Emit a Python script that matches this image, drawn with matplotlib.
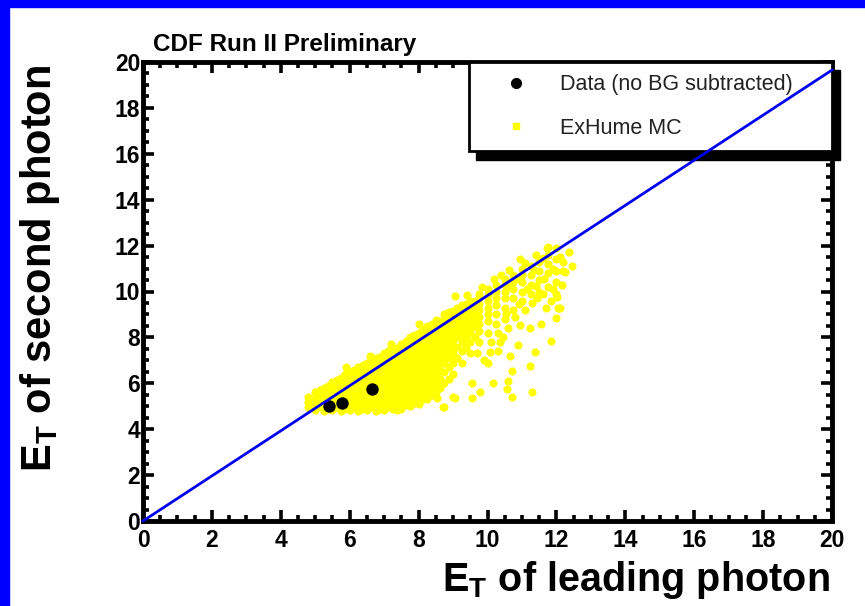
import matplotlib
matplotlib.use("Agg")
import matplotlib.pyplot as plt
from matplotlib.lines import Line2D
from matplotlib.patches import Rectangle
from matplotlib.ticker import MultipleLocator

plt.rcParams['font.family'] = ['Liberation Sans', 'DejaVu Sans']
plt.rcParams['mathtext.fontset'] = 'custom'
plt.rcParams['mathtext.rm'] = 'Liberation Sans'
plt.rcParams['mathtext.bf'] = 'Liberation Sans:bold'

# Data (no BG subtracted)
data_x = [5.40, 5.78, 6.65]
data_y = [5.00, 5.12, 5.75]

# ExHume MC (dense core)
mc_core = [
    (4.8, 4.95), (4.8, 5.2), (4.8, 5.4),
    (5.0, 4.85), (5.0, 5.1), (5.0, 5.35), (5.0, 5.6),
    (5.25, 4.8), (5.25, 5.05), (5.25, 5.3), (5.25, 5.55), (5.25, 5.8),
    (5.5, 4.85), (5.5, 5.1), (5.5, 5.35), (5.5, 5.6), (5.5, 5.85), (5.5, 6.05),
    (5.75, 4.8), (5.75, 5.05), (5.75, 5.3), (5.75, 5.55), (5.75, 5.8), (5.75, 6.05), (5.75, 6.25),
    (6.0, 4.85), (6.0, 5.1), (6.0, 5.35), (6.0, 5.6), (6.0, 5.85), (6.0, 6.1), (6.0, 6.35), (6.0, 6.5),
    (6.25, 4.8), (6.25, 5.05), (6.25, 5.3), (6.25, 5.55), (6.25, 5.8), (6.25, 6.05), (6.25, 6.3),
    (6.25, 6.55), (6.25, 6.7),
    (6.5, 4.85), (6.5, 5.1), (6.5, 5.35), (6.5, 5.6), (6.5, 5.85), (6.5, 6.1), (6.5, 6.35),
    (6.5, 6.6), (6.5, 6.9),
    (6.75, 4.8), (6.75, 5.05), (6.75, 5.3), (6.75, 5.55), (6.75, 5.8), (6.75, 6.05), (6.75, 6.3),
    (6.75, 6.55), (6.75, 6.8), (6.75, 7.1),
    (7.0, 4.85), (7.0, 5.1), (7.0, 5.35), (7.0, 5.6), (7.0, 5.85), (7.0, 6.1), (7.0, 6.35),
    (7.0, 6.6), (7.0, 6.85), (7.0, 7.1), (7.0, 7.3),
    (7.25, 4.9), (7.25, 5.15), (7.25, 5.4), (7.25, 5.65), (7.25, 5.9), (7.25, 6.15), (7.25, 6.4),
    (7.25, 6.65), (7.25, 6.9), (7.25, 7.15), (7.25, 7.5),
    (7.5, 4.9), (7.5, 5.2), (7.5, 5.45), (7.5, 5.7), (7.5, 5.95), (7.5, 6.2), (7.5, 6.45),
    (7.5, 6.7), (7.5, 6.95), (7.5, 7.2), (7.5, 7.45), (7.5, 7.7),
    (7.75, 5.0), (7.75, 5.3), (7.75, 5.55), (7.75, 5.8), (7.75, 6.05), (7.75, 6.3), (7.75, 6.55),
    (7.75, 6.8), (7.75, 7.05), (7.75, 7.3), (7.75, 7.55), (7.75, 7.8), (7.75, 8.0),
    (8.0, 5.1), (8.0, 5.4), (8.0, 5.7), (8.0, 5.95), (8.0, 6.2), (8.0, 6.45), (8.0, 6.7),
    (8.0, 6.95), (8.0, 7.2), (8.0, 7.45), (8.0, 7.7), (8.0, 7.95), (8.0, 8.2),
    (8.25, 5.3), (8.25, 5.6), (8.25, 5.9), (8.25, 6.2), (8.25, 6.5), (8.25, 6.75), (8.25, 7.0),
    (8.25, 7.25), (8.25, 7.5), (8.25, 7.75), (8.25, 8.0), (8.25, 8.25), (8.25, 8.5),
    (8.5, 5.6), (8.5, 6.0), (8.5, 6.35), (8.5, 6.7), (8.5, 7.0), (8.5, 7.3), (8.5, 7.55),
    (8.5, 7.8), (8.5, 8.05), (8.5, 8.3), (8.5, 8.55), (8.5, 8.75),
    (8.75, 6.0), (8.75, 6.5), (8.75, 6.9), (8.75, 7.2), (8.75, 7.5), (8.75, 7.75), (8.75, 8.0),
    (8.75, 8.25), (8.75, 8.5), (8.75, 8.75), (8.75, 9.0),
    (9.0, 6.4), (9.0, 6.9), (9.0, 7.3), (9.0, 7.6), (9.0, 7.9), (9.0, 8.15), (9.0, 8.4),
    (9.0, 8.65), (9.0, 8.9), (9.0, 9.15),
    (9.25, 6.9), (9.25, 7.4), (9.25, 7.8), (9.25, 8.1), (9.25, 8.4), (9.25, 8.65), (9.25, 8.9),
    (9.25, 9.15), (9.25, 9.4),
    (9.5, 7.3), (9.5, 7.8), (9.5, 8.2), (9.5, 8.5), (9.5, 8.8), (9.5, 9.05), (9.5, 9.3), (9.5, 9.6),
    (9.75, 7.8), (9.75, 8.3), (9.75, 8.6), (9.75, 8.9), (9.75, 9.2), (9.75, 9.45), (9.75, 9.7),
    (9.75, 9.9),
    (10.0, 8.2), (10.0, 8.7), (10.0, 9.0), (10.0, 9.3), (10.0, 9.6), (10.0, 9.85), (10.0, 10.1),
    (10.25, 8.6), (10.25, 9.0), (10.25, 9.4), (10.25, 9.7), (10.25, 10.0), (10.25, 10.3),
    (10.5, 8.8), (10.5, 9.3), (10.5, 9.7), (10.5, 10.0), (10.5, 10.3), (10.5, 10.55),
    (10.75, 9.2), (10.75, 9.7), (10.75, 10.1), (10.75, 10.4), (10.75, 10.7),
    (11.0, 9.6), (11.0, 10.0), (11.0, 10.4), (11.0, 10.7), (11.0, 11.0),
    (11.25, 9.9), (11.25, 10.3), (11.25, 10.7), (11.25, 11.1),
    (11.5, 10.0), (11.5, 10.5), (11.5, 10.9), (11.5, 11.3),
    (11.75, 10.2), (11.75, 10.8), (11.75, 11.2), (11.75, 11.6),
    (12.0, 9.9), (12.0, 10.4), (12.0, 10.9), (12.0, 11.4), (12.0, 11.9),
]

# ExHume MC, in-between columns of the dense core
mc_fill = [
    (5.125, 4.95), (5.125, 5.2), (5.125, 5.45), (5.125, 5.7),
    (5.375, 4.9), (5.375, 5.15), (5.375, 5.4), (5.375, 5.65), (5.375, 5.9),
    (5.625, 4.95), (5.625, 5.2), (5.625, 5.45), (5.625, 5.7), (5.625, 5.95), (5.625, 6.15),
    (5.875, 4.9), (5.875, 5.15), (5.875, 5.4), (5.875, 5.65), (5.875, 5.9), (5.875, 6.15),
    (5.875, 6.4),
    (6.125, 4.95), (6.125, 5.2), (6.125, 5.45), (6.125, 5.7), (6.125, 5.95), (6.125, 6.2),
    (6.125, 6.45), (6.125, 6.6),
    (6.375, 4.9), (6.375, 5.15), (6.375, 5.4), (6.375, 5.65), (6.375, 5.9), (6.375, 6.15),
    (6.375, 6.4), (6.375, 6.65), (6.375, 6.8),
    (6.625, 4.95), (6.625, 5.2), (6.625, 5.45), (6.625, 5.7), (6.625, 5.95), (6.625, 6.2),
    (6.625, 6.45), (6.625, 6.7), (6.625, 6.95),
    (6.875, 4.9), (6.875, 5.15), (6.875, 5.4), (6.875, 5.65), (6.875, 5.9), (6.875, 6.15),
    (6.875, 6.4), (6.875, 6.65), (6.875, 6.9), (6.875, 7.15),
    (7.125, 4.95), (7.125, 5.2), (7.125, 5.45), (7.125, 5.7), (7.125, 5.95), (7.125, 6.2),
    (7.125, 6.45), (7.125, 6.7), (7.125, 6.95), (7.125, 7.2), (7.125, 7.4),
    (7.375, 5.0), (7.375, 5.25), (7.375, 5.5), (7.375, 5.75), (7.375, 6.0), (7.375, 6.25),
    (7.375, 6.5), (7.375, 6.75), (7.375, 7.0), (7.375, 7.25), (7.375, 7.55),
    (7.625, 5.05), (7.625, 5.3), (7.625, 5.6), (7.625, 5.85), (7.625, 6.1), (7.625, 6.35),
    (7.625, 6.6), (7.625, 6.85), (7.625, 7.1), (7.625, 7.35), (7.625, 7.6), (7.625, 7.85),
    (7.875, 5.15), (7.875, 5.45), (7.875, 5.7), (7.875, 5.95), (7.875, 6.2), (7.875, 6.45),
    (7.875, 6.7), (7.875, 6.95), (7.875, 7.2), (7.875, 7.45), (7.875, 7.7), (7.875, 7.95),
    (7.875, 8.1),
    (8.125, 5.3), (8.125, 5.6), (8.125, 5.85), (8.125, 6.1), (8.125, 6.35), (8.125, 6.6),
    (8.125, 6.85), (8.125, 7.1), (8.125, 7.35), (8.125, 7.6), (8.125, 7.85), (8.125, 8.1),
    (8.125, 8.35),
    (8.375, 5.5), (8.375, 5.8), (8.375, 6.1), (8.375, 6.4), (8.375, 6.7), (8.375, 6.95),
    (8.375, 7.2), (8.375, 7.45), (8.375, 7.7), (8.375, 7.95), (8.375, 8.2), (8.375, 8.45),
    (8.375, 8.6),
    (8.625, 5.8), (8.625, 6.2), (8.625, 6.55), (8.625, 6.85), (8.625, 7.15), (8.625, 7.45),
    (8.625, 7.7), (8.625, 7.95), (8.625, 8.2), (8.625, 8.45), (8.625, 8.7),
    (8.875, 6.2), (8.875, 6.7), (8.875, 7.1), (8.875, 7.4), (8.875, 7.65), (8.875, 7.9),
    (8.875, 8.15), (8.875, 8.4), (8.875, 8.65), (8.875, 8.9), (8.875, 9.1),
    (9.125, 7.1), (9.125, 7.6), (9.125, 8.0), (9.125, 8.3), (9.125, 8.55), (9.125, 8.8),
    (9.125, 9.05), (9.125, 9.3),
    (9.375, 7.6), (9.375, 8.0), (9.375, 8.35), (9.375, 8.65), (9.375, 8.95), (9.375, 9.2),
    (9.375, 9.45),
    (9.625, 8.0), (9.625, 8.45), (9.625, 8.75), (9.625, 9.05), (9.625, 9.35), (9.625, 9.6),
]

# ExHume MC, scattered points outside the core
mc_tail = [
    (7.37, 4.84), (8.71, 4.97), (8.53, 5.36), (9.0, 5.4), (9.06, 5.36), (8.74, 4.97),
    (9.55, 5.36), (9.55, 6.0), (9.78, 5.6), (10.16, 6.03), (10.57, 5.75), (10.6, 6.1),
    (10.71, 5.4), (10.71, 6.54), (10.65, 7.17), (11.23, 6.75), (11.29, 5.62),
    (10.07, 7.36), (10.36, 7.8), (10.89, 7.67), (11.38, 7.36), (11.84, 7.84),
    (11.23, 8.41), (10.94, 8.54), (11.99, 8.85), (12.05, 9.28), (12.1, 9.3),
    (12.02, 9.76), (12.25, 10.85), (12.45, 11.12), (12.37, 11.72), (11.76, 11.94),
    (11.73, 11.9), (10.94, 11.42), (10.62, 10.94), (9.06, 9.8), (8.0, 8.6),
    (7.2, 7.7), (6.6, 7.2), (5.9, 6.7), (9.4, 9.85), (10.2, 10.55),
    (9.9, 7.0), (10.1, 7.8), (10.3, 8.2), (10.45, 8.0), (10.6, 8.4), (10.8, 8.9),
    (11.1, 9.2), (11.3, 9.5), (11.45, 9.7), (11.6, 9.9), (11.85, 9.6), (11.9, 10.1),
    (12.15, 10.3), (12.2, 10.9), (12.1, 11.5), (11.4, 11.6), (11.1, 11.25), (10.4, 10.7),
    (9.85, 10.2), (9.7, 7.3), (10.0, 6.9), (10.3, 7.4), (11.55, 8.6), (11.7, 9.3),
    (10.55, 9.0), (10.9, 9.45), (11.15, 10.1), (11.4, 10.25), (11.65, 10.55),
    (11.9, 11.0), (12.2, 11.3), (10.65, 10.2), (10.9, 10.55), (11.35, 10.95), (11.6, 11.45),
]

line_x = [0, 20]
line_y = [0, 19.65]

fig = plt.figure(figsize=(8.65, 6.06), dpi=100)
fig.patches.append(Rectangle((0, 0), 9 / 865, 1, transform=fig.transFigure,
                             color='#0000ff', zorder=0))
fig.patches.append(Rectangle((0, 1 - 7 / 606), 1, 7 / 606, transform=fig.transFigure,
                             color='#0000ff', zorder=0))

ax = fig.add_axes([143 / 865, 1 - 521 / 606, 689 / 865, 459 / 606])

mc_all = mc_core + mc_fill + mc_tail
mc_x = [p[0] for p in mc_all]
mc_y = [p[1] for p in mc_all]
ax.scatter(mc_x, mc_y, s=34, color='#ffff00', linewidths=0, zorder=2)
ax.scatter(data_x, data_y, s=80, color='black', linewidths=0, zorder=3)
ax.plot(line_x, line_y, color='#0000ee', lw=2.0, zorder=7, clip_on=False)

ax.set_xlim(0, 20)
ax.set_ylim(0, 20)
for a in (ax.xaxis, ax.yaxis):
    a.set_major_locator(MultipleLocator(2))
    a.set_minor_locator(MultipleLocator(0.5))
ax.tick_params(which='both', direction='in', top=True, right=True, width=2.6)
ax.tick_params(which='major', length=8, labelsize=16.5)
ax.tick_params(which='minor', length=4)
ax.tick_params(axis='x', which='major', pad=6)
ax.tick_params(axis='y', which='major', pad=2)
for lab in ax.get_xticklabels() + ax.get_yticklabels():
    lab.set_fontweight('bold')
for sp in ax.spines.values():
    sp.set_linewidth(3.5)

handles = [
    Line2D([], [], marker='o', color='black', ms=7, ls='none'),
    Line2D([], [], marker='s', color='#ffff00', ms=4, ls='none'),
]
leg = ax.legend(handles, ['Data (no BG subtracted)', 'ExHume MC'],
                loc='upper left', bbox_to_anchor=(0.473, 0.0, 0.527, 1.0), mode='expand',
                fancybox=False, frameon=True, fontsize=15.5, borderpad=0.57,
                labelspacing=1.05, handlelength=3.2, handletextpad=0.46,
                borderaxespad=0.0)
leg.get_frame().set_edgecolor('black')
leg.get_frame().set_linewidth(2)
leg.get_frame().set_alpha(1)
for t in leg.get_texts():
    t.set_color('#222222')
leg.set_zorder(5)
ax.add_patch(Rectangle((0.473 + 0.011, 0.804 - 0.017), 0.527, 0.196,
                       transform=ax.transAxes, color='black', clip_on=False, zorder=4))

fig.text(153 / 865, 1 - 44 / 606, 'CDF Run II Preliminary', fontsize=17.5,
         fontweight='bold', va='center', ha='left')
fig.text(40 / 865, 1 - 268 / 606, r'$\mathbf{E_T}$ of second photon', fontsize=30,
         fontweight='bold', rotation=90, va='center', ha='center')
fig.text(830 / 865, 1 - 580 / 606, r'$\mathbf{E_T}$ of leading photon', fontsize=28.5,
         fontweight='bold', va='center', ha='right')

fig.savefig('out.png', dpi=100)
